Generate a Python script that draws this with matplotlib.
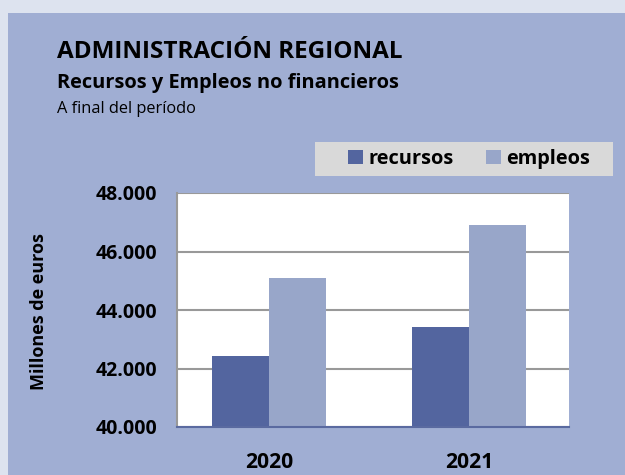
import matplotlib
matplotlib.use("Agg")
import matplotlib.pyplot as plt
from matplotlib.patches import Rectangle

categories = ["2020", "2021"]
recursos = [42420, 43410]
empleos = [45110, 46910]
yticks = [40000, 42000, 44000, 46000, 48000]
ytick_labels = ["40.000", "42.000", "44.000", "46.000", "48.000"]

plt.rcParams['font.family'] = ['Open Sans', 'DejaVu Sans']

fig = plt.figure(figsize=(6.25, 4.75), dpi=100)
fig.patch.set_facecolor('#DDE3EF')
W, H = 625, 475
# inner panel
fig.patches.append(Rectangle((8 / W, 0), 1 - 8 / W, 1 - 13 / H, transform=fig.transFigure,
                             facecolor='#A0AED3', edgecolor='none', zorder=-10))

# titles
fig.text(57 / W, 1 - 58 / H, "ADMINISTRACIÓN REGIONAL", fontsize=17.5, fontweight='bold',
         va='baseline', ha='left', color='black')
fig.text(57 / W, 1 - 88 / H, "Recursos y Empleos no financieros", fontsize=14.4, fontweight='bold',
         va='baseline', ha='left', color='black')
fig.text(57 / W, 1 - 113 / H, "A final del período", fontsize=11.8, va='baseline', ha='left',
         color='black')

ax = fig.add_axes([177 / W, 48 / H, (569 - 177) / W, (427 - 193) / H])
ax.set_facecolor('white')
x = range(len(categories))
bw = 0.285
ax.bar([i - bw / 2 for i in x], recursos, width=bw, color='#53659F', zorder=3, label='recursos')
ax.bar([i + bw / 2 for i in x], empleos, width=bw, color='#98A6C9', zorder=3, label='empleos')
ax.set_ylim(40000, 48000)
ax.set_xlim(-0.46, 1.5)
ax.set_yticks(yticks)
ax.set_yticklabels(ytick_labels, fontsize=14, fontweight='bold')
ax.set_xticks(list(x))
ax.set_xticklabels(categories, fontsize=15.2, fontweight='bold')
ax.tick_params(axis='both', length=0)
ax.tick_params(axis='y', pad=14)
ax.tick_params(axis='x', pad=18)
ax.grid(axis='y', color='#999999', linewidth=1.5, zorder=1)
for s in ['top', 'right']:
    ax.spines[s].set_visible(False)
ax.spines['left'].set_color('#999999')
ax.spines['left'].set_linewidth(1.5)
ax.spines['bottom'].set_color('#5A6AA0')
ax.spines['bottom'].set_linewidth(1.5)
ax.spines['bottom'].set_zorder(4)
ax.set_ylabel("Millones de euros", fontsize=13, fontweight='bold')
ax.yaxis.label.set_va('center')
ax.yaxis.set_label_coords((39 - 177) / 392, (427 - 312) / 234)

# legend box
fig.patches.append(Rectangle((315 / W, 1 - 176 / H), (613 - 315) / W, (176 - 142) / H,
                             transform=fig.transFigure, facecolor='#D9D9D9', edgecolor='none', zorder=1))
leg = fig.legend(loc='center left', bbox_to_anchor=(348 / W, 1 - 159 / H), ncol=2,
                 frameon=False, prop={'size': 14.4, 'weight': 'bold'}, handlelength=0.75,
                 handleheight=0.75, columnspacing=1.65, handletextpad=0.25, borderpad=0,
                 borderaxespad=0)
leg.set_zorder(5)

fig.savefig("out.png", dpi=100, facecolor=fig.get_facecolor())
